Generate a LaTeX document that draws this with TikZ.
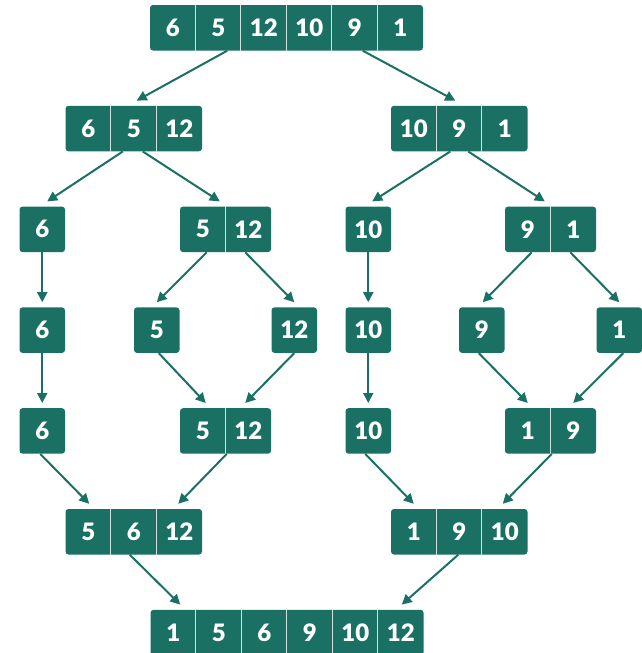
\documentclass[tikz,border=0pt]{standalone}
\usepackage{fontspec}
\setmainfont{Lato}[BoldFont={Lato Black}]
\usetikzlibrary{arrows.meta,calc}
\definecolor{gteal}{RGB}{26,112,98}
\tikzset{
  cell/.style={minimum width=45.5pt, minimum height=45.5pt, inner sep=0pt, text=white,
    font=\fontsize{24}{24}\selectfont\bfseries},
  divider/.style={draw=white!80!gteal, line width=1pt},
  conn/.style={draw=gteal, line width=2pt, -{Triangle[length=10pt,width=10pt]}},
}
\newcommand\cellarray[5]{%
  \fill[gteal, rounded corners=3pt] (#2,#3) rectangle ++({#4*45.5},45.5);
  \foreach \v [count=\i] in {#5} {\node[cell] (#1-\i) at ({#2+(\i-0.5)*45.5},{#3+22.75}) {\v};}
  \ifnum#4>1 \foreach \k in {2,...,#4} {\draw[divider] (#1-\k.north west) -- (#1-\k.south west);}\fi
}
\begin{document}
\begin{tikzpicture}[x=1pt,y=-1pt]
\useasboundingbox (0,0) rectangle (642,653);
\cellarray{t}{150}{5}{6}{6,5,12,10,9,1}
\cellarray{l2}{65.5}{105.8}{3}{6,5,12}
\cellarray{r2}{391}{105.8}{3}{10,9,1}
\cellarray{a3}{19.5}{206.6}{1}{6}
\cellarray{m3}{180}{206.6}{2}{5,12}
\cellarray{b3}{345.5}{206.6}{1}{10}
\cellarray{n3}{505}{206.6}{2}{9,1}
\cellarray{a4}{19.5}{307.4}{1}{6}
\cellarray{p4}{134}{307.4}{1}{5}
\cellarray{q4}{271.5}{307.4}{1}{12}
\cellarray{b4}{345.5}{307.4}{1}{10}
\cellarray{s4}{459}{307.4}{1}{9}
\cellarray{u4}{596.5}{307.4}{1}{1}
\cellarray{a5}{19.5}{408.2}{1}{6}
\cellarray{m5}{180}{408.2}{2}{5,12}
\cellarray{b5}{345.5}{408.2}{1}{10}
\cellarray{n5}{505}{408.2}{2}{1,9}
\cellarray{l6}{65.5}{509}{3}{5,6,12}
\cellarray{r6}{391}{509}{3}{1,9,10}
\cellarray{f}{150.5}{609.8}{6}{1,5,6,9,10,12}
% connectors
\draw[conn] ($(t-2.south)+(9,0)$) -- ($(l2-2.north)+(3,-5)$);
\draw[conn] ($(t-5.south)+(8,0)$) -- ($(r2-2.north)+(-4,-5)$);
\draw[conn] ($(l2-2.south)+(-11,0)$) -- ($(a3-1.north)+(5,-5)$);
\draw[conn] ($(l2-2.south)+(9,0)$) -- ($(m3-1.north)+(17,-5)$);
\draw[conn] ($(r2-2.south)+(-9,0)$) -- ($(b3-1.north)+(4,-5)$);
\draw[conn] ($(r2-2.south)+(9,0)$) -- ($(n3-1.north)+(17,-5)$);
\draw[conn] (a3-1.south) -- ($(a4-1.north)+(0,-5)$);
\draw[conn] ($(m3-1.south)+(4,0)$) -- ($(p4-1.north)+(0,-5)$);
\draw[conn] ($(m3-2.south)+(-3,0)$) -- ($(q4-1.north)+(0,-5)$);
\draw[conn] (b3-1.south) -- ($(b4-1.north)+(0,-5)$);
\draw[conn] ($(n3-1.south)+(4,0)$) -- ($(s4-1.north)+(1,-5)$);
\draw[conn] ($(n3-2.south)+(-3,0)$) -- ($(u4-1.north)+(0,-5)$);
\draw[conn] (a4-1.south) -- ($(a5-1.north)+(0,-5)$);
\draw[conn] ($(p4-1.south)+(2,0)$) -- ($(m5-1.north)+(3,-5)$);
\draw[conn] (q4-1.south) -- ($(m5-2.north)+(-3,-5)$);
\draw[conn] (b4-1.south) -- ($(b5-1.north)+(0,-5)$);
\draw[conn] ($(s4-1.south)+(-3,0)$) -- ($(n5-1.north)+(0,-5)$);
\draw[conn] ($(u4-1.south)+(4,0)$) -- ($(n5-2.north)+(0,-5)$);
\draw[conn] ($(a5-1.south)+(-2,0)$) -- ($(l6-1.north)+(1,-5)$);
\draw[conn] ($(m5-1.south)+(24,0)$) -- ($(l6-3.north)+(-1,-5)$);
\draw[conn] ($(b5-1.south)+(-3,0)$) -- ($(r6-1.north)+(0,-5)$);
\draw[conn] ($(n5-1.south)+(24,0)$) -- ($(r6-3.north)+(-2,-5)$);
\draw[conn] ($(l6-2.south)+(-4,0)$) -- ($(f-1.north)+(7,-5)$);
\draw[conn] ($(r6-2.south)+(-1,0)$) -- ($(f-6.north)+(1,-5)$);
\end{tikzpicture}
\end{document}
